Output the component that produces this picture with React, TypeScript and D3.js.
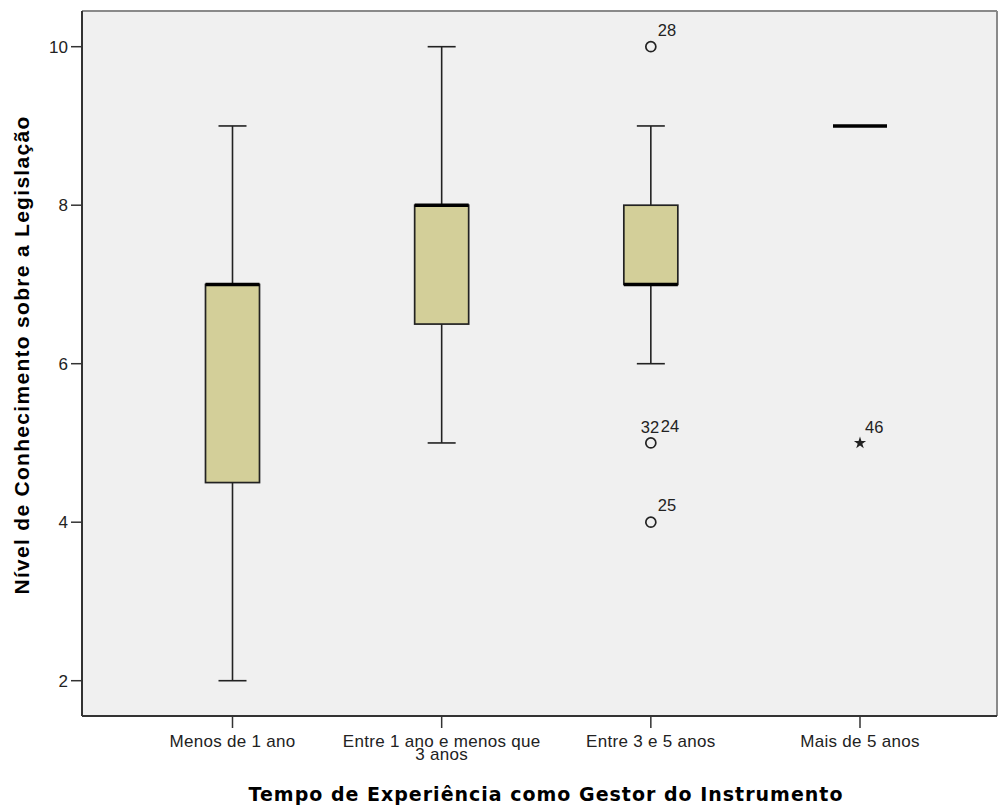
import React from "react";
import * as d3 from "d3";

const categories = ["Menos de 1 ano", "Entre 1 ano e menos que 3 anos", "Entre 3 e 5 anos", "Mais de 5 anos"];
const categoryLabels = [["Menos de 1 ano"], ["Entre 1 ano e menos que", "3 anos"], ["Entre 3 e 5 anos"], ["Mais de 5 anos"]];
const mins = [2, 5, 6, 9];
const q1s = [4.5, 6.5, 7, 9];
const medians = [7, 8, 7, 9];
const q3s = [7, 8, 8, 9];
const maxs = [9, 10, 9, 9];
// outliers: category index, value, case label(s)
const outlierCat = [2, 2, 2];
const outlierVal = [10, 5, 4];
const outlierLabels = [["28"], ["32", "24"], ["25"]];
const extremeCat = [3];
const extremeVal = [5];
const extremeLabels = ["46"];
const yTicks = [2, 4, 6, 8, 10];

const W = 998, H = 806;
const frame = { left: 82, right: 997, top: 11, bottom: 716 };

export default function App() {
  const y = d3.scaleLinear().domain([2, 10]).range([680.7, 46.7]);
  const x = d3.scalePoint<string>().domain(categories).range([232.5, 860]);
  const boxW = 54;
  const capW = 28;
  const font = "Liberation Sans, Arial, sans-serif";
  const star = d3.symbol().type(d3.symbolStar).size(46)() as string;
  const tickFs = 17;
  const lblFs = 16.5;

  return (
    <svg width={W} height={H} style={{ position: "absolute", left: 0, top: 0 }} fontFamily={font}>
      <rect x={0} y={0} width={W} height={H} fill="#ffffff" />
      <rect x={frame.left} y={frame.top} width={frame.right - frame.left} height={frame.bottom - frame.top} fill="#f0f0f0" />
      <line x1={frame.left} x2={frame.right} y1={frame.top} y2={frame.top} stroke="#8a8a8a" strokeWidth={2} />
      <line x1={frame.right} x2={frame.right} y1={frame.top} y2={frame.bottom} stroke="#8a8a8a" strokeWidth={2} />
      <line x1={frame.left} x2={frame.left} y1={frame.top} y2={frame.bottom} stroke="#333" strokeWidth={2} />
      <line x1={frame.left} x2={frame.right} y1={frame.bottom} y2={frame.bottom} stroke="#333" strokeWidth={2} />

      {yTicks.map((t) => (
        <g key={t}>
          <line x1={frame.left - 11} x2={frame.left} y1={y(t)} y2={y(t)} stroke="#333" strokeWidth={1.5} />
          <text x={68} y={y(t)} dy="0.36em" textAnchor="end" fontSize={tickFs} fill="#222">{t}</text>
        </g>
      ))}

      {categories.map((c, i) => {
        const cx = x(c)!;
        return (
          <g key={c}>
            <line x1={cx} x2={cx} y1={frame.bottom} y2={frame.bottom + 12} stroke="#333" strokeWidth={1.5} />
            {categoryLabels[i].map((l, j) => (
              <text key={j} x={cx} y={747 + j * 13} textAnchor="middle" fontSize={tickFs} letterSpacing={0.3} fill="#222">{l}</text>
            ))}
            {maxs[i] > q3s[i] && (
              <>
                <line x1={cx} x2={cx} y1={y(q3s[i])} y2={y(maxs[i])} stroke="#222" strokeWidth={1.6} />
                <line x1={cx - capW / 2} x2={cx + capW / 2} y1={y(maxs[i])} y2={y(maxs[i])} stroke="#222" strokeWidth={1.6} />
              </>
            )}
            {mins[i] < q1s[i] && (
              <>
                <line x1={cx} x2={cx} y1={y(q1s[i])} y2={y(mins[i])} stroke="#222" strokeWidth={1.6} />
                <line x1={cx - capW / 2} x2={cx + capW / 2} y1={y(mins[i])} y2={y(mins[i])} stroke="#222" strokeWidth={1.6} />
              </>
            )}
            {q3s[i] > q1s[i] && (
              <rect x={cx - boxW / 2} y={y(q3s[i])} width={boxW} height={y(q1s[i]) - y(q3s[i])} fill="#d3cf99" stroke="#222" strokeWidth={1.7} />
            )}
            <line x1={cx - boxW / 2} x2={cx + boxW / 2} y1={y(medians[i])} y2={y(medians[i])} stroke="#000" strokeWidth={3.5} />
          </g>
        );
      })}

      {outlierVal.map((v, i) => {
        const cx = x(categories[outlierCat[i]])!;
        const cy = y(v);
        return (
          <g key={"o" + i}>
            <circle cx={cx} cy={cy} r={5} fill="none" stroke="#222" strokeWidth={1.7} />
            {outlierLabels[i].length === 1 ? (
              <text x={cx + 7} y={cy - 11} fontSize={lblFs} fill="#222">{outlierLabels[i][0]}</text>
            ) : (
              <>
                <text x={cx - 10} y={cy - 10} fontSize={lblFs} fill="#222">{outlierLabels[i][0]}</text>
                <text x={cx + 10} y={cy - 11} fontSize={lblFs} fill="#222">{outlierLabels[i][1]}</text>
              </>
            )}
          </g>
        );
      })}

      {extremeVal.map((v, i) => {
        const cx = x(categories[extremeCat[i]])!;
        const cy = y(v);
        return (
          <g key={"e" + i}>
            <path d={star} transform={`translate(${cx},${cy})`} fill="#222" />
            <text x={cx + 5} y={cy - 10} fontSize={lblFs} fill="#222">{extremeLabels[i]}</text>
          </g>
        );
      })}

      <text x={546} y={801} textAnchor="middle" fontSize={19} letterSpacing={1} fontWeight="bold" fill="#000" fontFamily="DejaVu Sans, sans-serif">
        Tempo de Experiência como Gestor do Instrumento
      </text>
      <text transform={`translate(28.5,355) rotate(-90)`} textAnchor="middle" fontSize={21} letterSpacing={1.3} fontWeight="bold" fill="#000" fontFamily="Liberation Sans, Arial, sans-serif">
        Nível de Conhecimento sobre a Legislação
      </text>
    </svg>
  );
}
